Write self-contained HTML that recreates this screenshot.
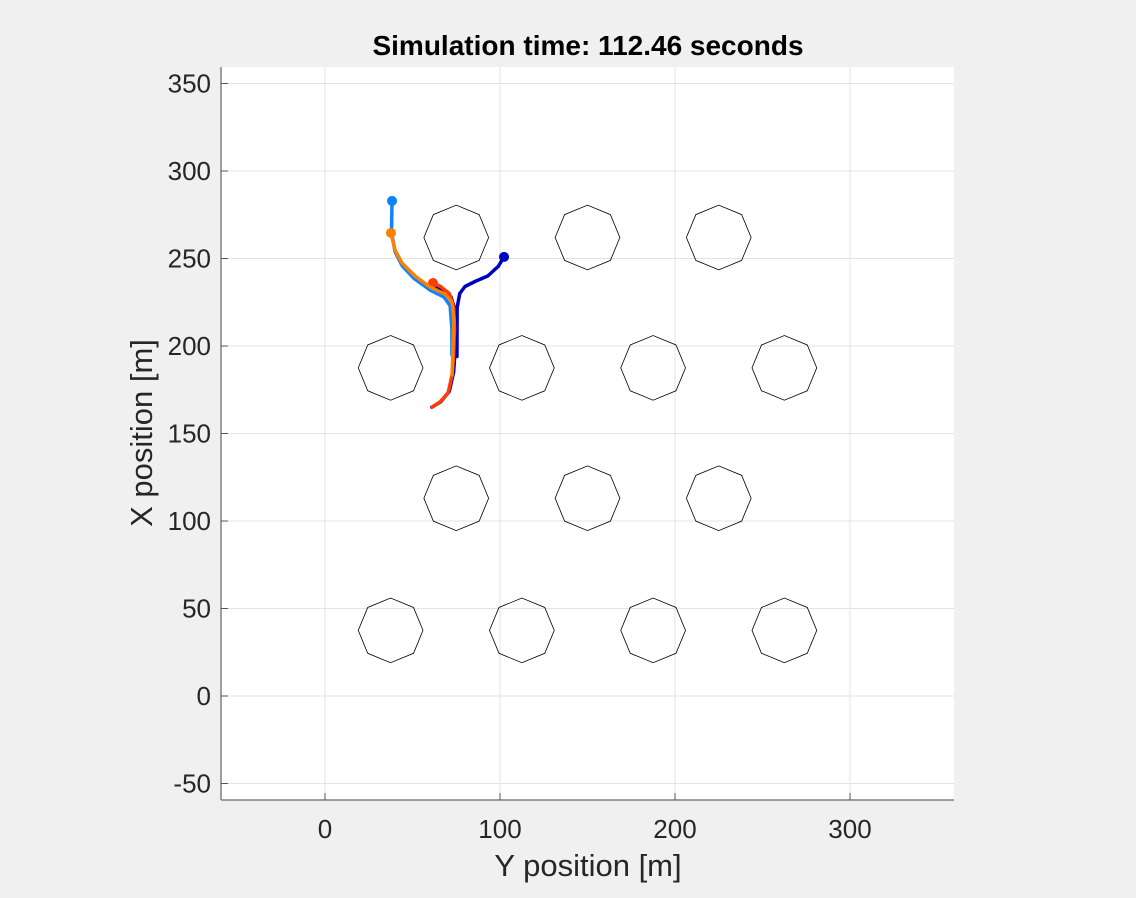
<!DOCTYPE html>
<html><head><meta charset="utf-8"><style>
body{margin:0;background:#f0f0f0;}
svg{display:block;font-family:"Liberation Sans",sans-serif;}
</style></head><body>
<svg id="chart" width="1136" height="898">
<rect x="221" y="67" width="733" height="733" fill="#fff"/>
<g id="grid"></g>
<g id="obstacles"></g>
<g id="paths"></g>
<line x1="221" y1="67" x2="221" y2="800" stroke="#808080" stroke-width="1.5"/>
<line x1="221" y1="800" x2="954" y2="800" stroke="#808080" stroke-width="1.5"/>
<g id="ticks"></g>
<text x="588" y="55" text-anchor="middle" font-size="28" font-weight="bold">Simulation time: 112.46 seconds</text>
<text x="588" y="876" text-anchor="middle" font-size="31" fill="#262626">Y position [m]</text>
<text x="152" y="433" text-anchor="middle" font-size="31" fill="#262626" transform="rotate(-90 152 433)">X position [m]</text>
</svg>
<script>
const xTicks=[0,100,200,300];
const yTicks=[-50,0,50,100,150,200,250,300,350];
const obsY=[75,150,225,37.5,112.5,187.5,262.5,75,150,225,37.5,112.5,187.5,262.5];
const obsX=[262,262,262,187.5,187.5,187.5,187.5,113,113,113,37.5,37.5,37.5,37.5];
const obsR=18.5;
const lightBlue=[[38.3,282.9],[38,265],[40,254],[44,246],[51,238.5],[60,232],[68,228],[71.5,223],[72.5,210],[72.5,195]];
const darkBlue=[[102.3,250.9],[99,245.5],[93,240],[86,237],[80,234],[77,230],[75.5,222],[75.4,194]];
const darkBlue2=[[60,235],[68,232],[72,228],[74.5,220],[74.5,200],[73.5,185],[71,174],[66,168],[61,165]];
const orange=[[37.7,264.6],[40,254.9],[44,247.4],[51.4,240],[60,233.7],[68.6,229.7],[72.6,225.1],[73.7,214.9],[73.1,197.7],[72.6,183.4]];
const red=[[61.7,236],[66,234],[71,230],[73.5,222],[74,210],[73.5,195],[72.6,183.4],[70.3,173.1],[65.7,168],[61.1,165.1]];
const NS='http://www.w3.org/2000/svg';
const sx=v=>325+v*1.75, sy=v=>696-v*1.75;
function mk(tag,parent,attrs){const e=document.createElementNS(NS,tag);for(const k in attrs)e.setAttribute(k,attrs[k]);document.getElementById(parent).appendChild(e);return e;}
xTicks.forEach(t=>{
 const g=mk('line','grid',{x1:sx(t),x2:sx(t),y1:67,y2:800,stroke:'#e3e3e3','stroke-width':1});
 
 
 const l=mk('text','ticks',{x:sx(t),y:838,'text-anchor':'middle','font-size':26,fill:'#262626'});
 l.textContent=t;
 
 
 const tk=mk('line','ticks',{x1:sx(t),x2:sx(t),y1:800,y2:793,stroke:'#555'});
 
 
});
yTicks.forEach(t=>{
 const g=mk('line','grid',{y1:sy(t),y2:sy(t),x1:221,x2:954,stroke:'#e3e3e3','stroke-width':1});
 
 
 const l=mk('text','ticks',{x:211,y:sy(t)+9,'text-anchor':'end','font-size':26,fill:'#262626'});
 l.textContent=t;
 
 
 const tk=mk('line','ticks',{y1:sy(t),y2:sy(t),x1:221,x2:228,stroke:'#555'});
 
 
});
obsY.forEach((cx,i)=>{
 const cy=obsX[i];const pts=[];
 for(let k=0;k<8;k++){const a=k*Math.PI/4;pts.push(sx(cx+obsR*Math.cos(a))+','+sy(cy+obsR*Math.sin(a)));}
 const p=mk('polygon','obstacles',{points:pts.join(' '),fill:'none',stroke:'#000','stroke-width':0.8});
 
 
});
function path(data,color,w,name,dot){
 const d=data.map((p,i)=>(i?'L':'M')+sx(p[0])+' '+sy(p[1])).join(' ');
 const e=mk('path','paths',{d:d,fill:'none',stroke:color,'stroke-width':w,'stroke-linejoin':'round','stroke-linecap':'round'});
 
 
 if(dot){const c=mk('circle','paths',{cx:sx(data[0][0]),cy:sy(data[0][1]),r:5,fill:color});
 
 }
}
path(darkBlue2,'#0000c0',3.5,'agent-path-darkblue-2',false);
path(lightBlue,'#0a84ff',3.5,'agent-path-lightblue',true);
path(darkBlue,'#0000c0',3.5,'agent-path-darkblue',true);
path(red,'#ff3d00',3.5,'agent-path-red',true);
path(orange,'#ff8000',3.5,'agent-path-orange',true);
</script>
</body></html>
